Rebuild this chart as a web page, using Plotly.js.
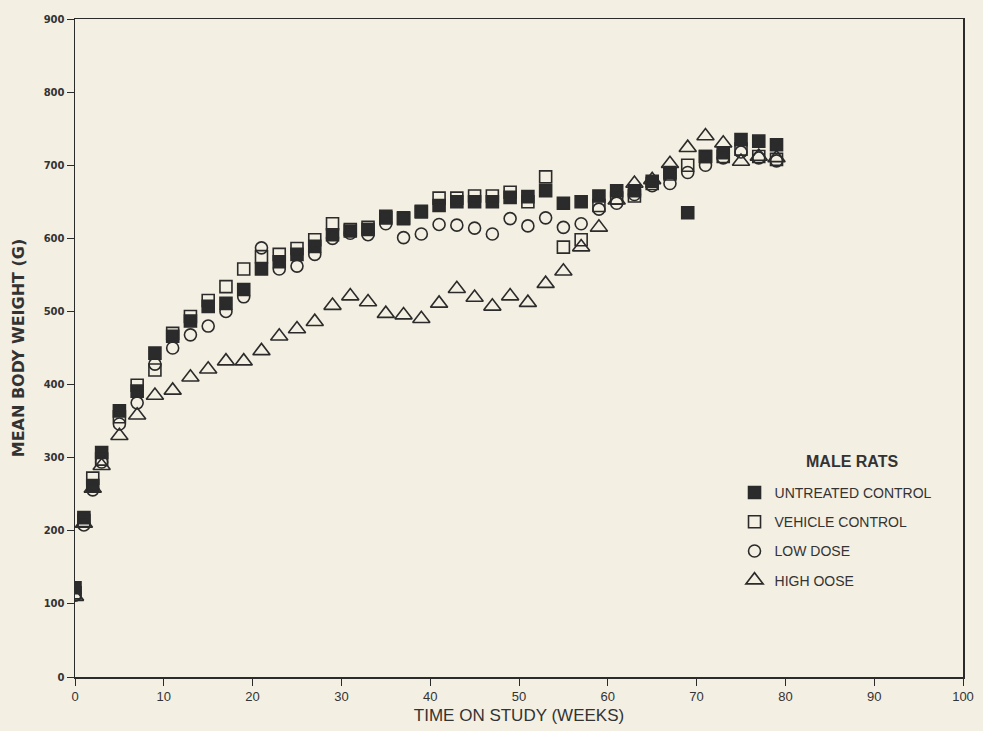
<!DOCTYPE html>
<html>
<head>
<meta charset="utf-8">
<script src="https://cdn.plot.ly/plotly-3.0.1.min.js"></script>
<style>
html,body{margin:0;padding:0;background:#f3efe2;}
#chart{width:983px;height:731px;}
</style>
</head>
<body>
<div id="chart"></div>
<script>
const weeks = [0,1,2,3,5,7,9,11,13,15,17,19,21,23,25,27,29,31,33,35,37,39,41,43,45,47,49,51,53,55,57,59,61,63,65,67,69,71,73,75,77,79];
const untreatedControl = [122,218,262,307,364,391,443,466,487,507,511,530,558,568,578,589,605,610,612,630,627,636,645,650,650,650,656,657,665,648,650,658,665,665,678,690,635,712,717,735,733,728];
const vehicleControl = [115,214,272,298,356,399,420,470,493,515,534,558,575,578,586,598,620,612,615,628,628,637,655,655,658,658,663,650,684,588,598,645,655,658,675,688,700,712,712,722,712,708];
const lowDose = [112,208,256,294,346,375,428,450,468,480,500,520,587,558,562,578,600,607,605,620,601,606,619,618,614,606,627,617,628,615,620,640,648,660,672,675,690,700,710,718,710,706];
const highDose = [110,210,258,289,330,358,385,392,410,421,432,432,446,466,476,486,508,521,513,497,495,490,511,531,519,507,521,512,538,555,588,615,652,675,680,702,724,740,730,705,712,710];
const seriesNames = ['UNTREATED CONTROL','VEHICLE CONTROL','LOW DOSE','HIGH OOSE'];
const legendTitle = 'MALE RATS';
const xTicks = [0,10,20,30,40,50,60,70,80,90,100];
const yTicks = [0,100,200,300,400,500,600,700,800,900];

const ink = '#2b2b2b';
function tr(y, name, symbol, size, grp){
  return {x: weeks, y: y, name: name, type:'scatter', mode:'markers', legendgroup: grp,
    marker:{symbol: symbol, size: size, color: ink, line:{color: ink, width:1.6}}};
}
const data = [
  tr(untreatedControl, seriesNames[0], 'square', 12, 'a'),
  tr(vehicleControl, seriesNames[1], 'square-open', 12, 'b'),
  tr(lowDose, seriesNames[2], 'circle-open', 12, 'c'),
  tr(highDose, seriesNames[3], 'triangle-up-open', 15, 'd')
];
const layout = {
  width: 983, height: 731,
  paper_bgcolor:'#f3efe2', plot_bgcolor:'#f3efe2',
  margin:{l:75, r:20, t:19, b:54},
  font:{family:'Liberation Sans, Arial, sans-serif', color:'#333'},
  xaxis:{range:[0,100], tickvals:xTicks, ticktext:xTicks.map(String), showgrid:false, zeroline:false,
    showline:true, linecolor:ink, linewidth:1.5, mirror:true, ticks:'outside', ticklen:7, tickcolor:ink,
    tickfont:{size:13, family:'Liberation Sans, Arial, sans-serif', color:'#333'},
    title:{text:'TIME ON STUDY (WEEKS)', font:{size:17, family:'Liberation Sans, Arial', color:'#333'}, standoff:6}},
  yaxis:{range:[0,900], tickvals:yTicks, ticktext:yTicks.map(String), showgrid:false, zeroline:false,
    showline:true, linecolor:ink, linewidth:1.5, mirror:true, ticks:'outside', ticklen:7, tickcolor:ink,
    tickfont:{size:10, family:'DejaVu Sans, Arial', color:'#333', weight:'bold'},
    title:{text:'MEAN BODY WEIGHT (G)', font:{size:16, family:'DejaVu Sans, Arial', color:'#333', weight:'bold'}, standoff:15}},
  showlegend:true,
  legend:{x:0.7427, xanchor:'left', y:0.304, yanchor:'top', bgcolor:'rgba(0,0,0,0)',
    traceorder:'grouped', tracegroupgap:8,
    font:{size:14, family:'Liberation Sans, Arial', color:'#333'}},
  annotations:[{xref:'paper', yref:'paper', x:(852-75)/888, y:(677-461)/658, xanchor:'center', yanchor:'middle',
    text:'<b>'+legendTitle+'</b>', showarrow:false, font:{size:16, family:'Liberation Sans, Arial', color:'#333'}}]
};
Plotly.newPlot('chart', data, layout, {displayModeBar:false, staticPlot:true});
</script>
</body>
</html>
